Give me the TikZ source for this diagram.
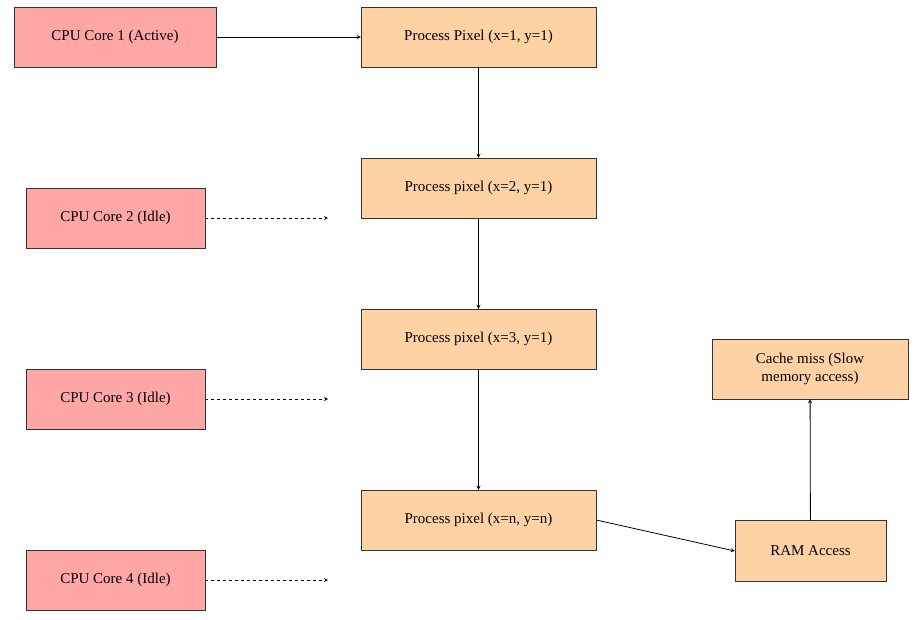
\documentclass[tikz,border=0pt]{standalone}
\usepackage{fontspec}
\setmainfont{Liberation Serif}
\begin{document}
\begin{tikzpicture}[x=1pt,y=-1pt,
  box/.style={draw=black!80,fill=#1,minimum height=60pt,inner sep=0pt,align=center,font=\fontsize{15}{18}\selectfont},
  arr/.style={->,>=stealth,thick,line width=0.8pt},
  darr/.style={->,>=stealth,dashed,line width=0.8pt}]
\useasboundingbox (0,0) rectangle (916,620);
\colorlet{cpu}{red!35}
\colorlet{proc}{orange!35}
\node[box=cpu,minimum width=202pt] (c1) at (115,37) {CPU Core 1 (Active)};
\node[box=cpu,minimum width=179pt] (c2) at (115.5,218) {CPU Core 2 (Idle)};
\node[box=cpu,minimum width=179pt] (c3) at (115.5,399) {CPU Core 3 (Idle)};
\node[box=cpu,minimum width=179pt] (c4) at (115.5,580) {CPU Core 4 (Idle)};
\node[box=proc,minimum width=235pt] (p1) at (478.5,37) {Process Pixel (x=1, y=1)};
\node[box=proc,minimum width=235pt] (p2) at (478.5,188) {Process pixel (x=2, y=1)};
\node[box=proc,minimum width=235pt] (p3) at (478.5,339) {Process pixel (x=3, y=1)};
\node[box=proc,minimum width=235pt] (p4) at (478.5,520) {Process pixel (x=n, y=n)};
\node[box=proc,minimum width=151pt,minimum height=61pt] (ram) at (810.5,551) {RAM Access};
\node[box=proc,minimum width=196pt] (cache) at (810,369) {Cache miss (Slow\\memory access)};
\coordinate (e2) at (328,218);
\coordinate (e3) at (328,399);
\coordinate (e4) at (328,580);
\draw[arr] (c1) -- (p1);
\draw[arr] (p1) -- (p2);
\draw[arr] (p2) -- (p3);
\draw[arr] (p3) -- (p4);
\draw[arr] (p4.east) -- (ram.west);
\draw[arr] (ram) -- (cache);
\draw[darr] (c2) -- (e2);
\draw[darr] (c3) -- (e3);
\draw[darr] (c4) -- (e4);
\end{tikzpicture}
\end{document}
